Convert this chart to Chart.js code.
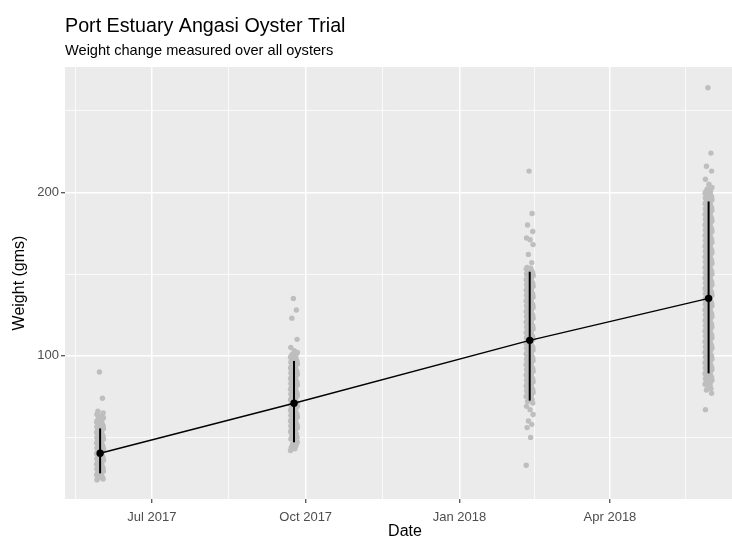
<!DOCTYPE html>
<html>
<head>
<meta charset="utf-8">
<script src="https://cdn.jsdelivr.net/npm/chart.js@4.4.1/dist/chart.umd.min.js"></script>
<style>
  html, body { margin: 0; padding: 0; background: #fff; overflow: hidden; }
  #wrap { position: relative; width: 732px; height: 538px; }
  canvas { display: block; }
</style>
</head>
<body>
<div id="wrap"><canvas id="oysterChart"></canvas></div>
<script>
// sampling dates and summary per date
const sampleDates = ['2017-05-31', '2017-09-24', '2018-02-12', '2018-05-30'];
const meanWeights = [40.3, 70.9, 109.4, 135.1];
const barLow  = [28.0, 47.0, 72.5, 89.2];
const barHigh = [55.5, 96.8, 151.4, 194.4];

// individual oyster weights (gms)
const weightsJun17 = [90, 74, 66, 65, 64, 63, 62, 61.5, 61, 60.5, 60, 59.5, 59, 58.5, 58, 57.5, 57,
  56.5, 56, 55.5, 55, 54.5, 54, 53.5, 53, 52.5, 52, 51.5, 51, 50.5, 50, 49.5, 49, 48.5, 48, 47.5, 47,
  46.5, 46, 45.5, 45, 44.5, 44, 43.5, 43, 42.5, 42, 41.5, 41, 40.5, 40, 39.5, 39, 38.5, 38, 37.5, 37,
  36.5, 36, 35.5, 35, 34.5, 34, 33.5, 33, 32.5, 32, 31.5, 31, 30.5, 30, 29.5, 29, 28.5, 28, 27.5, 27,
  26.5, 26, 25.5, 25, 24.5, 24];
const weightsSep17 = [135, 128, 123, 110, 105, 103, 102, 101, 100.5, 100, 99.5, 99, 98.5, 98, 97.5,
  97, 96.5, 96, 95.5, 95, 94.5, 94, 93.5, 93, 92.5, 92, 91.5, 91, 90.5, 90, 89.5, 89, 88.5, 88, 87.5,
  87, 86.5, 86, 85.5, 85, 84.5, 84, 83.5, 83, 82.5, 82, 81.5, 81, 80.5, 80, 79.5, 79, 78.5, 78, 77.5,
  77, 76.5, 76, 75.5, 75, 74.5, 74, 73.5, 73, 72.5, 72, 71.5, 71, 70.5, 70, 69.5, 69, 68.5, 68, 67.5,
  67, 66.5, 66, 65.5, 65, 64.5, 64, 63.5, 63, 62.5, 62, 61.5, 61, 60.5, 60, 59.5, 59, 58.5, 58, 57.5,
  57, 56.5, 56, 55.5, 55, 54.5, 54, 53.5, 53, 52.5, 52, 51, 50, 49, 48, 47, 46, 45, 44, 43, 42];
const weightsFeb18 = [213, 187, 180, 176, 172, 171, 168, 162, 157, 154, 153.5, 153, 152.5, 152, 151.5,
  151, 150.5, 150, 149.5, 149, 148.5, 148, 147.5, 147, 146.5, 146, 145.5, 145, 144.5, 144, 143.5, 143,
  142.5, 142, 141.5, 141, 140.5, 140, 139.5, 139, 138.5, 138, 137.5, 137, 136.5, 136, 135.5, 135,
  134.5, 134, 133.5, 133, 132.5, 132, 131.5, 131, 130.5, 130, 129.5, 129, 128.5, 128, 127.5, 127,
  126.5, 126, 125.5, 125, 124.5, 124, 123.5, 123, 122.5, 122, 121.5, 121, 120.5, 120, 119.5, 119,
  118.5, 118, 117.5, 117, 116.5, 116, 115.5, 115, 114.5, 114, 113.5, 113, 112.5, 112, 111.5, 111,
  110.5, 110, 109.5, 109, 108.5, 108, 107.5, 107, 106.5, 106, 105.5, 105, 104.5, 104, 103.5, 103,
  102.5, 102, 101.5, 101, 100.5, 100, 99.5, 99, 98.5, 98, 97.5, 97, 96.5, 96, 95.5, 95, 94.5, 94,
  93.5, 93, 92.5, 92, 91.5, 91, 90.5, 90, 89.5, 89, 88.5, 88, 87.5, 87, 86.5, 86, 85.5, 85, 84.5, 84,
  83.5, 83, 82.5, 82, 81.5, 81, 80.5, 80, 79.5, 79, 78.5, 78, 77.5, 77, 76.5, 76, 75.5, 75, 74.5, 74,
  73, 72, 71, 69, 67, 64, 60, 58, 56, 50, 33];
const weightsMay18 = [264, 224, 216, 213, 208, 205, 203, 202, 201, 200.5, 200, 199.5, 199, 198.5,
  198, 197.5, 197, 196.5, 196, 195.5, 195, 194.5, 194, 193.5, 193, 192.5, 192, 191.5, 191, 190.5, 190,
  189.5, 189, 188.5, 188, 187.5, 187, 186.5, 186, 185.5, 185, 184.5, 184, 183.5, 183, 182.5, 182,
  181.5, 181, 180.5, 180, 179.5, 179, 178.5, 178, 177.5, 177, 176.5, 176, 175.5, 175, 174.5, 174,
  173.5, 173, 172.5, 172, 171.5, 171, 170.5, 170, 169.5, 169, 168.5, 168, 167.5, 167, 166.5, 166,
  165.5, 165, 164.5, 164, 163.5, 163, 162.5, 162, 161.5, 161, 160.5, 160, 159.5, 159, 158.5, 158,
  157.5, 157, 156.5, 156, 155.5, 155, 154.5, 154, 153.5, 153, 152.5, 152, 151.5, 151, 150.5, 150,
  149.5, 149, 148.5, 148, 147.5, 147, 146.5, 146, 145.5, 145, 144.5, 144, 143.5, 143, 142.5, 142,
  141.5, 141, 140.5, 140, 139.5, 139, 138.5, 138, 137.5, 137, 136.5, 136, 135.5, 135, 134.5, 134,
  133.5, 133, 132.5, 132, 131.5, 131, 130.5, 130, 129.5, 129, 128.5, 128, 127.5, 127, 126.5, 126,
  125.5, 125, 124.5, 124, 123.5, 123, 122.5, 122, 121.5, 121, 120.5, 120, 119.5, 119, 118.5, 118,
  117.5, 117, 116.5, 116, 115.5, 115, 114.5, 114, 113.5, 113, 112.5, 112, 111.5, 111, 110.5, 110,
  109.5, 109, 108.5, 108, 107.5, 107, 106.5, 106, 105.5, 105, 104.5, 104, 103.5, 103, 102.5, 102,
  101.5, 101, 100.5, 100, 99.5, 99, 98.5, 98, 97.5, 97, 96.5, 96, 95.5, 95, 94.5, 94, 93.5, 93, 92.5,
  92, 91.5, 91, 90.5, 90, 89.5, 89, 88.5, 88, 87.5, 87, 86.5, 86, 85.5, 85, 84.5, 84, 83.5, 83, 82.5,
  82, 81, 80, 79, 77, 67];

// horizontal jitter (days) cycled over the points of each date
const jitterDays = [-0.4, 1.4, -1.3, 1.8, -1.9, 0.2, 2.0, -0.8, 1.2, -1.6, 0.5, -2.1, 0.9];

// axes
const xMin = '2017-05-10', xMax = '2018-06-13';
const xMajor = ['2017-07-01', '2017-10-01', '2018-01-01', '2018-04-01'];
const xMajorLabels = ['Jul 2017', 'Oct 2017', 'Jan 2018', 'Apr 2018'];
const xMinor = ['2017-05-16', '2017-08-16', '2017-11-16', '2018-02-15', '2018-05-16'];
const yMin = 12.3, yMax = 276.7;
const yMajor = [100, 200];
const yMinor = [50, 150, 250];

const FONT = '"Liberation Sans", Arial, Helvetica, sans-serif';
Chart.defaults.font.family = FONT;

function day(s){ return Date.UTC(+s.slice(0,4), +s.slice(5,7) - 1, +s.slice(8,10)) / 864e5; }

const xMajorDays = xMajor.map(day);
const xTickDays = xMajorDays.concat(xMinor.map(day)).sort((a,b)=>a-b);
const yTicks = yMajor.concat(yMinor).sort((a,b)=>a-b);

const isMajorX = ctx => ctx.tick && xMajorDays.includes(ctx.tick.value);
const isMajorY = ctx => ctx.tick && yMajor.includes(ctx.tick.value);

const groups = [weightsJun17, weightsSep17, weightsFeb18, weightsMay18];
const points = [];
groups.forEach((ws, g) => {
  const d = day(sampleDates[g]);
  ws.forEach((w, i) => points.push({ x: d + jitterDays[i % jitterDays.length], y: w }));
});

const datasets = [{
  type: 'scatter',
  data: points,
  pointRadius: 2.7,
  pointBorderWidth: 0,
  pointBackgroundColor: '#bebebe',
  order: 3
}];
sampleDates.forEach((s, i) => {
  datasets.push({
    type: 'line',
    data: [{ x: day(s), y: barLow[i] }, { x: day(s), y: barHigh[i] }],
    borderColor: '#000',
    borderWidth: 2,
    pointRadius: 0,
    order: 2
  });
});
datasets.push({
  type: 'line',
  data: sampleDates.map((s, i) => ({ x: day(s), y: meanWeights[i] })),
  borderColor: '#000',
  borderWidth: 1.4,
  tension: 0,
  pointRadius: 3.7,
  pointBorderWidth: 0,
  pointBackgroundColor: '#000',
  order: 1
});

// grey panel plus ggplot-like header text
const panelPlugin = {
  id: 'panel',
  beforeDraw(chart){
    const { ctx, chartArea: a } = chart;
    ctx.save();
    ctx.fillStyle = '#ebebeb';
    ctx.fillRect(a.left, a.top, a.right - a.left, a.bottom - a.top);
    ctx.restore();
  },
  afterDraw(chart){
    const { ctx, chartArea: a } = chart;
    ctx.save();
    ctx.fillStyle = '#000';
    ctx.textBaseline = 'alphabetic';
    ctx.textAlign = 'left';
    ctx.font = '19.7px ' + FONT;
    ctx.fillText('Port Estuary Angasi Oyster Trial', a.left, 32);
    ctx.font = '14.6px ' + FONT;
    ctx.fillText('Weight change measured over all oysters', a.left, 55);
    // the original panel runs on past the right edge, so centre the axis title on it
    ctx.font = '16px ' + FONT;
    ctx.textAlign = 'center';
    ctx.fillText('Date', 405, 536);
    ctx.restore();
  }
};

new Chart(document.getElementById('oysterChart'), {
  type: 'scatter',
  data: { datasets },
  plugins: [panelPlugin],
  options: {
    responsive: true,
    maintainAspectRatio: false,
    animation: false,
    layout: { autoPadding: false, padding: { top: 67, right: 0, bottom: 0, left: 0 } },
    plugins: { legend: { display: false }, tooltip: { enabled: false } },
    scales: {
      x: {
        type: 'linear',
        min: day(xMin),
        max: day(xMax),
        afterBuildTicks: ax => { ax.ticks = xTickDays.map(v => ({ value: v })); },
        afterFit: ax => { ax.height = 39; ax.paddingLeft = 0; ax.paddingRight = 0; },
        border: { display: false },
        grid: {
          color: '#ffffff',
          lineWidth: ctx => isMajorX(ctx) ? 1.5 : 0.75,
          drawTicks: true,
          tickLength: 4,
          tickWidth: 1.1,
          tickColor: ctx => isMajorX(ctx) ? '#333333' : 'rgba(0,0,0,0)'
        },
        ticks: {
          autoSkip: false,
          maxRotation: 0,
          color: '#4d4d4d',
          font: { size: 13 },
          padding: 7,
          callback: v => { const i = xMajorDays.indexOf(v); return i >= 0 ? xMajorLabels[i] : ''; }
        }
      },
      y: {
        min: yMin,
        max: yMax,
        afterBuildTicks: ax => { ax.ticks = yTicks.map(v => ({ value: v })); },
        afterFit: ax => { ax.width = 65; ax.paddingTop = 0; ax.paddingBottom = 0; },
        border: { display: false },
        grid: {
          color: '#ffffff',
          lineWidth: ctx => isMajorY(ctx) ? 1.5 : 0.75,
          drawTicks: true,
          tickLength: 4,
          tickWidth: 1.1,
          tickColor: ctx => isMajorY(ctx) ? '#333333' : 'rgba(0,0,0,0)'
        },
        ticks: {
          color: '#4d4d4d',
          font: { size: 13 },
          padding: 2,
          callback: v => yMajor.includes(v) ? String(v) : ''
        },
        title: {
          display: true,
          text: 'Weight (gms)',
          color: '#000',
          font: { size: 16 },
          padding: { top: 10, bottom: 0 }
        }
      }
    }
  }
});
</script>
</body>
</html>
